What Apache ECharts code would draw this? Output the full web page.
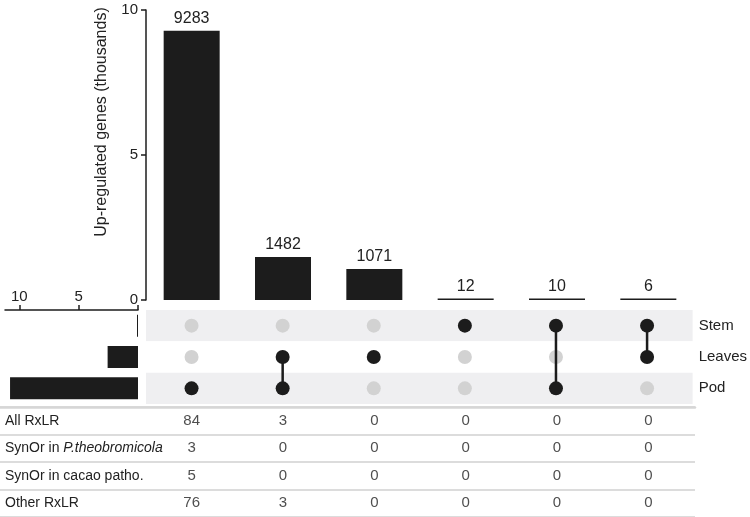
<!DOCTYPE html>
<html>
<head>
<meta charset="utf-8">
<script src="https://cdn.jsdelivr.net/npm/echarts@6/dist/echarts.min.js"></script>
<style>
  html, body { margin: 0; padding: 0; background: #fff; }
  #chart { width: 750px; height: 517px; }
</style>
</head>
<body>
<div id="chart"></div>
<script>
// sets shown in the matrix (top to bottom)
const setNames = ['Stem', 'Leaves', 'Pod'];
// intersections (columns), left to right
const comboMembers = [['Pod'], ['Leaves', 'Pod'], ['Leaves'], ['Stem'], ['Stem', 'Pod'], ['Stem', 'Leaves']];
const comboCounts = [9283, 1482, 1071, 12, 10, 6];
// table under the matrix
const tableRows = ['All RxLR', 'SynOr in P.theobromicola', 'SynOr in cacao patho.', 'Other RxLR'];
const allRxLR = [84, 3, 0, 0, 0, 0];
const synOrPtheo = [3, 0, 0, 0, 0, 0];
const synOrCacao = [5, 0, 0, 0, 0, 0];
const otherRxLR = [76, 3, 0, 0, 0, 0];

const FONT = '"Liberation Sans", Arial, sans-serif';
const INK = '#1c1c1c';
const comboIdx = comboCounts.map((c, i) => String(i));

// set sizes in thousands, summed from the intersections
const setSizes = setNames.map((s) => {
  let total = 0;
  comboMembers.forEach((m, i) => {
    if (m.indexOf(s) >= 0) total += comboCounts[i];
  });
  return total / 1000;
});

const activeDots = [];
const inactiveDots = [];
const linkSeries = [];
comboMembers.forEach((m, i) => {
  setNames.forEach((s) => {
    if (m.indexOf(s) >= 0) activeDots.push([String(i), s]);
    else inactiveDots.push([String(i), s]);
  });
  if (m.length > 1) {
    const rows = m.map((s) => setNames.indexOf(s)).sort();
    linkSeries.push({
      type: 'line',
      xAxisIndex: 1,
      yAxisIndex: 1,
      data: [[String(i), setNames[rows[0]]], [String(i), setNames[rows[rows.length - 1]]]],
      symbol: 'none',
      lineStyle: { color: INK, width: 2.5 },
      z: 2,
      silent: true,
    });
  }
});

const tableCols = [allRxLR, synOrPtheo, synOrCacao, otherRxLR];
const tableCells = [];
tableCols.forEach((row, r) => {
  row.forEach((v, i) => {
    tableCells.push([String(i), tableRows[r], v]);
  });
});

const chart = echarts.init(document.getElementById('chart'));
chart.setOption({
  animation: false,
  textStyle: { fontFamily: FONT },
  grid: [
    { left: 146, width: 548, top: 10, height: 290 },
    { left: 146, width: 548, top: 310, height: 94 },
    { left: 5, width: 133, top: 310, height: 94 },
    { left: 146, width: 548, top: 407, height: 110 },
    { left: 0, width: 695, top: 407, height: 110 },
  ],
  xAxis: [
    { gridIndex: 0, type: 'category', data: comboIdx, show: false },
    { gridIndex: 1, type: 'category', data: comboIdx, show: false },
    {
      gridIndex: 2,
      type: 'value',
      inverse: true,
      position: 'top',
      min: 0,
      max: 11.2,
      interval: 5,
      axisLine: { show: true, lineStyle: { color: INK, width: 1.5 } },
      axisTick: { show: true, length: 5, lineStyle: { color: INK, width: 1.5 } },
      axisLabel: {
        showMaxLabel: false,
        margin: 6,
        fontSize: 15,
        color: '#222',
        formatter: (v) => (v === 0 ? '' : v),
      },
      splitLine: { show: false },
    },
    { gridIndex: 3, type: 'category', data: comboIdx, show: false },
    {
      gridIndex: 4,
      type: 'value',
      position: 'top',
      min: 0,
      max: 1,
      axisLine: { show: true, lineStyle: { color: '#d6d6d6', width: 2.5 } },
      axisTick: { show: false },
      axisLabel: { show: false },
      splitLine: { show: false },
    },
  ],
  yAxis: [
    {
      gridIndex: 0,
      type: 'value',
      min: 0,
      max: 10000,
      interval: 5000,
      name: 'Up-regulated genes (thousands)',
      nameLocation: 'middle',
      nameGap: 36,
      nameTextStyle: { fontSize: 16, color: '#222', padding: [0, 0, 0, 66] },
      axisLine: { show: true, lineStyle: { color: INK, width: 1.5 } },
      axisTick: { show: true, length: 5, lineStyle: { color: INK, width: 1.5 } },
      axisLabel: { fontSize: 15, color: '#222', margin: 8, formatter: (v) => v / 1000 },
      splitLine: { show: false },
    },
    {
      gridIndex: 1,
      type: 'category',
      data: setNames,
      inverse: true,
      position: 'right',
      axisLine: { show: false },
      axisTick: { show: false },
      axisLabel: { fontSize: 15, color: '#222', margin: 6 },
      splitArea: { show: true, areaStyle: { color: ['#efeff1', '#ffffff'] } },
    },
    { gridIndex: 2, type: 'category', data: setNames, inverse: true, show: false },
    { gridIndex: 3, type: 'category', data: tableRows, inverse: true, show: false },
    {
      gridIndex: 4,
      type: 'category',
      data: tableRows,
      inverse: true,
      axisLine: { show: false },
      axisTick: { show: false },
      axisLabel: {
        inside: true,
        margin: 5,
        fontSize: 14,
        color: '#222',
        formatter: (v) => (v === 'SynOr in P.theobromicola' ? 'SynOr in {i|P.theobromicola}' : v),
        rich: { i: { fontStyle: 'italic', fontSize: 14, color: '#222', fontFamily: FONT } },
      },
      splitLine: { show: true, lineStyle: { color: '#d0d0d0', width: 1.5 } },
    },
  ],
  series: [
    {
      type: 'bar',
      xAxisIndex: 0,
      yAxisIndex: 0,
      data: comboCounts,
      barWidth: 56,
      barMinHeight: 1.5,
      itemStyle: { color: INK },
      label: { show: true, position: 'top', distance: 4, fontSize: 16, color: '#222' },
    },
    {
      type: 'scatter',
      xAxisIndex: 1,
      yAxisIndex: 1,
      data: inactiveDots,
      symbolSize: 14,
      itemStyle: { color: '#d2d2d2', opacity: 1 },
      z: 1,
    },
    ...linkSeries,
    {
      type: 'scatter',
      xAxisIndex: 1,
      yAxisIndex: 1,
      data: activeDots,
      symbolSize: 14,
      itemStyle: { color: INK, opacity: 1 },
      z: 3,
    },
    {
      type: 'bar',
      xAxisIndex: 2,
      yAxisIndex: 2,
      data: setSizes,
      barWidth: 22,
      barMinHeight: 1,
      itemStyle: { color: INK },
    },
    {
      type: 'scatter',
      xAxisIndex: 3,
      yAxisIndex: 3,
      data: tableCells,
      symbolSize: 1,
      itemStyle: { color: 'rgba(0,0,0,0)' },
      label: {
        show: true,
        position: 'inside',
        fontSize: 15,
        color: '#222',
        formatter: (p) => p.value[2],
      },
    },
  ],
});
</script>
</body>
</html>
